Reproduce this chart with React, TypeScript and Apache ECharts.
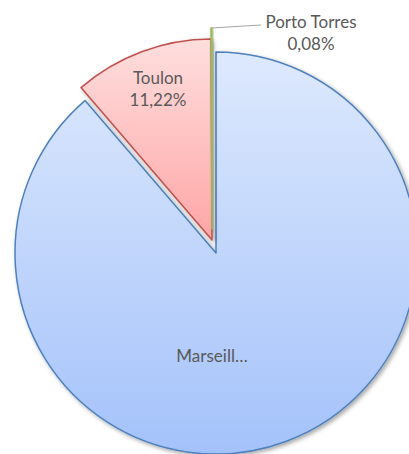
import React, { useEffect, useRef } from "react";
import * as echarts from "echarts";

const categories = ["Marseille", "Toulon", "Porto Torres"];
const shares = [88.7, 11.22, 0.08];
// label text as shown on the chart (Marseille's name is cut off there)
const shownNames = ["Marseill…", "Toulon", "Porto Torres"];

const W = 409;
const H = 454;
const FONT = "Lato";

// layout per slice (exploded centres)
const centers: [number, number][] = [
  [216, 253],
  [212, 240],
  [212, 229],
];
const labelPos: [number, number][] = [
  [212, 355],
  [158, 88],
  [311, 32],
];
const borders = ["#4f81bd", "#c0504d", "#9bbb59"];
const grads = [
  ["#dde9fd", "#a4c2fa"],
  ["#ffdede", "#ffa6a6"],
  ["#d7e4bd", "#b5cf86"],
];

const fmtPct = (v: number) => v.toFixed(2).replace(".", ",") + "%";

export default function App() {
  const ref = useRef<HTMLDivElement>(null);
  useEffect(() => {
    if (!ref.current) return;
    const chart = echarts.init(ref.current, undefined, { renderer: "svg" });
    const series = categories.map((_, k) => ({
      type: "pie",
      center: centers[k],
      radius: 201,
      startAngle: 90,
      clockwise: true,
      avoidLabelOverlap: false,
      silent: true,
      emphasis: { disabled: true },
      label: {
        position: k === 2 ? "outside" : "inside",
        color: "#595959",
        fontFamily: FONT,
        fontSize: 17,
        lineHeight: 22,
        align: "center",
        formatter: (p: any) =>
          k === 0
            ? shownNames[p.dataIndex]
            : shownNames[p.dataIndex] + "\n" + fmtPct(p.value),
      },
      labelLine: {
        show: k === 2,
        lineStyle: { color: "#a6a6a6", width: 1 },
      },
      labelLayout:
        k === 2
          ? {
              x: labelPos[k][0],
              y: labelPos[k][1],
              align: "center",
              verticalAlign: "middle",
              labelLinePoints: [
                [212, 28],
                [236, 26.5],
                [261, 25],
              ],
            }
          : {
              x: labelPos[k][0],
              y: labelPos[k][1],
              align: "center",
              verticalAlign: "middle",
            },
      data: categories.map((name, i) => ({
        name,
        value: shares[i],
        itemStyle:
          i === k
            ? {
                color: new echarts.graphic.LinearGradient(0, 0, 0, 1, [
                  { offset: 0, color: grads[k][0] },
                  { offset: 1, color: grads[k][1] },
                ]),
                borderColor: borders[k],
                borderWidth: 1.5,
                shadowBlur: 4,
                shadowOffsetX: 2,
                shadowOffsetY: 2,
                shadowColor: "rgba(0,0,0,0.35)",
              }
            : {
                color: "rgba(0,0,0,0)",
                borderWidth: 0,
                shadowBlur: 0,
                shadowColor: "rgba(0,0,0,0)",
              },
        label: { show: i === k },
        labelLine: { show: i === k && k === 2 },
      })),
    }));
    chart.setOption({
      animation: false,
      backgroundColor: "#ffffff",
      series,
    } as any);
    return () => chart.dispose();
  }, []);
  return (
    <div
      ref={ref}
      style={{ position: "fixed", left: 0, top: 0, width: W, height: H }}
    />
  );
}
